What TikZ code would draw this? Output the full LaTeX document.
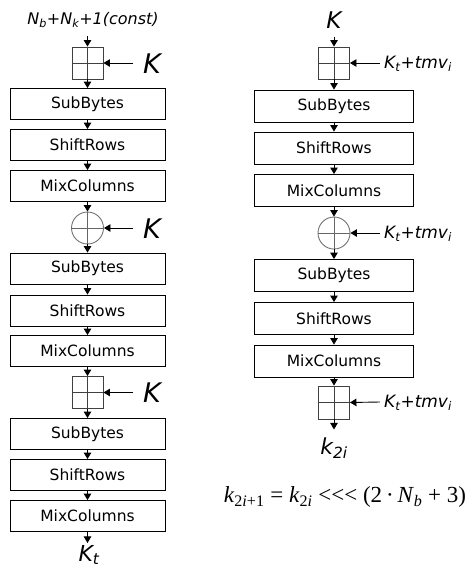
\documentclass[tikz,border=0pt]{standalone}
\usepackage{fontspec}
\setmainfont{DejaVu Sans}
\newfontfamily\tnr{Liberation Serif}
\usetikzlibrary{arrows.meta}
\begin{document}
\begin{tikzpicture}[x=1pt,y=-1pt,
  box/.style={draw, line width=0.9pt, minimum width=155pt, minimum height=31pt, inner sep=0pt, font=\fontsize{15.5}{15.5}\selectfont},
  rbox/.style={box, minimum width=159pt, minimum height=32pt},
  sqplus/.style={draw=black!75, line width=0.9pt, minimum width=31pt, minimum height=32pt, inner sep=0pt,
    path picture={\draw[black!75,line width=0.9pt] (path picture bounding box.north) -- (path picture bounding box.south)
      (path picture bounding box.west) -- (path picture bounding box.east);}},
  xorc/.style={circle, draw=black!55, line width=0.9pt, minimum size=32pt, inner sep=0pt,
    path picture={\draw[black!60,line width=0.9pt] (path picture bounding box.north) -- (path picture bounding box.south)
      (path picture bounding box.west) -- (path picture bounding box.east);}},
  arr/.style={-{Triangle[length=6.5pt,width=7.5pt]}, line width=0.9pt},
  bigK/.style={font=\fontsize{27}{27}\selectfont\itshape, inner sep=0pt},
  lab/.style={font=\fontsize{17}{17}\selectfont\itshape, inner sep=0pt, anchor=west},
  outlab/.style={font=\fontsize{22}{22}\selectfont\itshape, inner sep=0pt}
]
\useasboundingbox (0,0) rectangle (472,574);

% ---------- left column ----------
\node[font=\fontsize{16}{16}\selectfont\itshape, inner sep=0pt] (cst) at (93,20) {N\textsubscript{b}+N\textsubscript{k}+1(const)};
\coordinate (cstend) at (87.5,36);
\node[sqplus] (lsq1) at (87.5,63) {};
\node[box] (lsb1) at (87.5,104) {SubBytes};
\node[box] (lsr1) at (87.5,145) {ShiftRows};
\node[box] (lmc1) at (87.5,186) {MixColumns};
\node[xorc] (lx1) at (87.5,228) {};
\node[box] (lsb2) at (87.5,268.5) {SubBytes};
\node[box] (lsr2) at (87.5,310.5) {ShiftRows};
\node[box] (lmc2) at (87.5,351) {MixColumns};
\node[sqplus] (lsq2) at (87.5,392.5) {};
\node[box] (lsb3) at (87.5,434) {SubBytes};
\node[box] (lsr3) at (87.5,475) {ShiftRows};
\node[box] (lmc3) at (87.5,516) {MixColumns};
\node[outlab] (lkt) at (89,555) {K\textsubscript{t}};

\node[bigK] (lk1) at (152,64) {K};
\node[bigK] (lk2) at (152,229) {K};
\node[bigK] (lk3) at (152,393) {K};
\coordinate (la1) at (133,63);
\coordinate (la2) at (133,228);
\coordinate (la3) at (133,392.5);

\draw[arr] (cstend) -- (lsq1.north);
\draw[arr] (lsq1) -- (lsb1);
\draw[arr] (lsb1) -- (lsr1);
\draw[arr] (lsr1) -- (lmc1);
\draw[arr] (lmc1) -- (lx1);
\draw[arr] (lx1) -- (lsb2);
\draw[arr] (lsb2) -- (lsr2);
\draw[arr] (lsr2) -- (lmc2);
\draw[arr] (lmc2) -- (lsq2);
\draw[arr] (lsq2) -- (lsb3);
\draw[arr] (lsb3) -- (lsr3);
\draw[arr] (lsr3) -- (lmc3);
\draw[arr] (lmc3.south) -- ++(0,11);
\draw[arr] (la1) -- (lsq1.east);
\draw[arr] (la2) -- (lx1.east);
\draw[arr] (la3) -- (lsq2.east);

% ---------- right column ----------
\node[font=\fontsize{23}{23}\selectfont\itshape, inner sep=0pt] (rk) at (334,20) {K};
\node[sqplus] (rsq1) at (334,63) {};
\node[rbox] (rsb1) at (334,106) {SubBytes};
\node[rbox] (rsr1) at (334,148) {ShiftRows};
\node[rbox] (rmc1) at (334,190.5) {MixColumns};
\node[xorc] (rx1) at (334,233) {};
\node[rbox] (rsb2) at (334,275.5) {SubBytes};
\node[rbox] (rsr2) at (334,318.5) {ShiftRows};
\node[rbox] (rmc2) at (334,361) {MixColumns};
\node[sqplus, minimum height=33pt] (rsq2) at (334,402.5) {};
\node[outlab] (k2i) at (334,448) {k\textsubscript{2i}};

\node[lab] (rl1) at (384,64) {K\textsubscript{t}+tmv\textsubscript{i}};
\node[lab] (rl2) at (384,234) {K\textsubscript{t}+tmv\textsubscript{i}};
\node[lab] (rl3) at (384,403) {K\textsubscript{t}+tmv\textsubscript{i}};

\draw[arr] (rk.south) ++(0,8) -- (rsq1.north);
\draw[arr] (rsq1) -- (rsb1);
\draw[arr] (rsb1) -- (rsr1);
\draw[arr] (rsr1) -- (rmc1);
\draw[arr] (rmc1) -- (rx1);
\draw[arr] (rx1) -- (rsb2);
\draw[arr] (rsb2) -- (rsr2);
\draw[arr] (rsr2) -- (rmc2);
\draw[arr] (rmc2) -- (rsq2);
\draw[arr] (rsq2.south) -- ++(0,10);
\draw[arr] (rl1.west) ++(-4,-1) -- (rsq1.east);
\draw[arr] (rl2.west) ++(-4,-1) -- (rx1.east);
\draw[arr] (rl3.west) ++(-4,-1) -- (rsq2.east);

\node[font=\fontsize{23}{23}\selectfont\tnr, inner sep=0pt] (eq) at (345,497)
  {\textit{k}\textsubscript{2\textit{i}+1} = \textit{k}\textsubscript{2\textit{i}} <<< (2\,·\,\textit{N}\textsubscript{\textit{b}} + 3)};
\end{tikzpicture}
\end{document}
